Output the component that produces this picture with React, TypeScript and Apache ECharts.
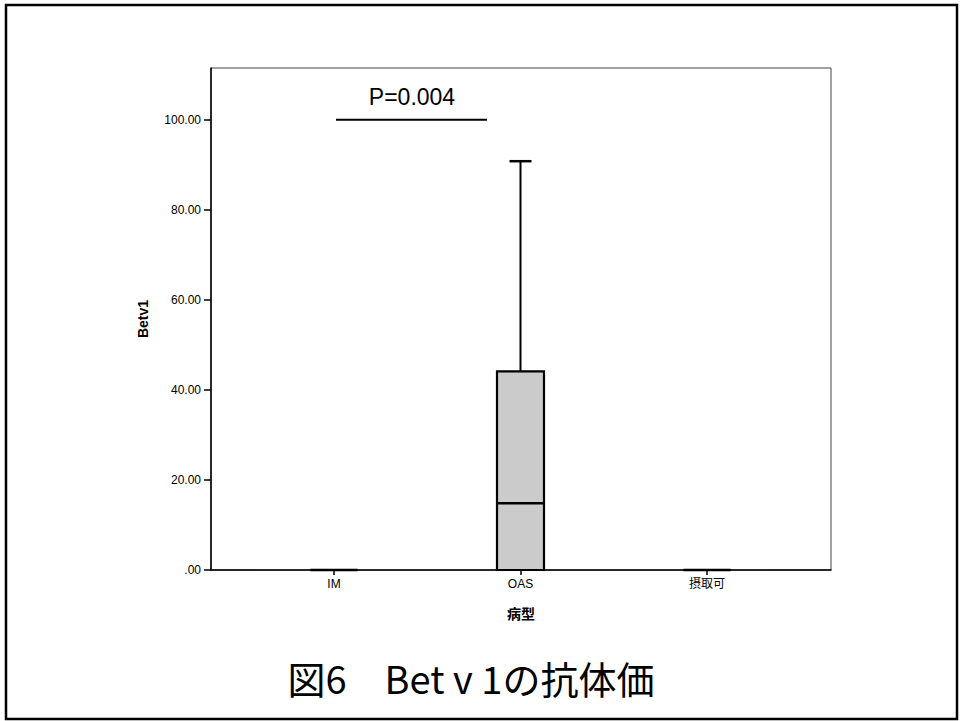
import React, { useEffect, useRef } from "react";
import * as echarts from "echarts";

// Bet v 1 antibody titre by disease type (box plot summary)
const categories = ["IM", "OAS", "摂取可"];
const minValues = [0, 0, 0];
const q1Values = [0, 0, 0];
const medianValues = [0, 14.8, 0];
const q3Values = [0, 44.1, 0];
const maxValues = [0, 90.8, 0];
const yTicks = [0, 20, 40, 60, 80, 100];

const pValueText = "P=0.004";
const pValueLevel = 100;
const titleText = "図6\u3000Bet v 1の抗体価";

const LATIN = "'Liberation Sans', Arial, 'Noto Sans CJK JP', sans-serif";
const CJK = "'Noto Sans CJK JP', 'Liberation Sans', sans-serif";

const formatTick = (v: number) => {
  const s = v.toFixed(2);
  return s.startsWith("0") ? s.slice(1) : s;
};

export default function App() {
  const ref = useRef<HTMLDivElement>(null);

  useEffect(() => {
    if (!ref.current) return;
    const chart = echarts.init(ref.current, undefined, { renderer: "svg" });

    const boxData = categories.map((_, i) => [
      i,
      minValues[i],
      q1Values[i],
      medianValues[i],
      q3Values[i],
      maxValues[i],
    ]);

    const yMax = 111.5;
    const boxWidth = 47;
    const capWidth = 22;

    const renderItem = (params: any, api: any) => {
      const idx = api.value(0);
      const vMin = api.value(1);
      const vQ1 = api.value(2);
      const vMed = api.value(3);
      const vQ3 = api.value(4);
      const vMax = api.value(5);
      const pMin = api.coord([idx, vMin]);
      const pQ1 = api.coord([idx, vQ1]);
      const pMed = api.coord([idx, vMed]);
      const pQ3 = api.coord([idx, vQ3]);
      const pMax = api.coord([idx, vMax]);
      const cx = pMed[0];
      const children: any[] = [];
      const lineStyle = { stroke: "#000", lineWidth: 2 };
      if (vMax > vQ3) {
        children.push({
          type: "line",
          shape: { x1: cx, y1: pQ3[1], x2: cx, y2: pMax[1] },
          style: lineStyle,
        });
        children.push({
          type: "line",
          shape: { x1: cx - capWidth / 2, y1: pMax[1], x2: cx + capWidth / 2, y2: pMax[1] },
          style: { stroke: "#000", lineWidth: 2.5 },
        });
      }
      if (vMin < vQ1) {
        children.push({
          type: "line",
          shape: { x1: cx, y1: pQ1[1], x2: cx, y2: pMin[1] },
          style: lineStyle,
        });
        children.push({
          type: "line",
          shape: { x1: cx - capWidth / 2, y1: pMin[1], x2: cx + capWidth / 2, y2: pMin[1] },
          style: { stroke: "#000", lineWidth: 2.5 },
        });
      }
      children.push({
        type: "rect",
        shape: {
          x: cx - boxWidth / 2,
          y: pQ3[1],
          width: boxWidth,
          height: pQ1[1] - pQ3[1],
        },
        style: { fill: "#cbcbcb", stroke: "#000", lineWidth: 2.2 },
      });
      children.push({
        type: "line",
        shape: { x1: cx - boxWidth / 2, y1: pMed[1], x2: cx + boxWidth / 2, y2: pMed[1] },
        style: { stroke: "#000", lineWidth: 2.5 },
      });
      return { type: "group", children };
    };

    chart.setOption({
      animation: false,
      backgroundColor: "#fff",
      grid: [
        {
          left: 211,
          top: 68,
          width: 620,
          height: 502,
          show: true,
          borderColor: "#444",
          borderWidth: 1,
          backgroundColor: "transparent",
        },
        { left: 240.75, top: 68, width: 559.5, height: 502 },
      ],
      xAxis: [
        {
          type: "value",
          gridIndex: 0,
          min: 0,
          max: 1,
          axisLine: { show: true, lineStyle: { color: "#000", width: 1.5 } },
          axisTick: { show: false },
          axisLabel: { show: false },
          splitLine: { show: false },
          name: "病型",
          nameLocation: "middle",
          nameGap: 36,
          nameTextStyle: {
            fontFamily: CJK,
            fontWeight: "bold",
            fontSize: 14,
            color: "#000",
          },
        },
        {
          type: "category",
          gridIndex: 1,
          data: categories,
          axisLine: { show: false },
          axisTick: {
            show: true,
            alignWithLabel: true,
            length: 5,
            lineStyle: { color: "#000", width: 1.5 },
          },
          axisLabel: {
            margin: 8,
            fontSize: 12,
            fontFamily: LATIN,
            color: "#000",
          },
          splitLine: { show: false },
        },
      ],
      yAxis: [
        {
          type: "value",
          gridIndex: 0,
          min: 0,
          max: yMax,
          interval: 20,
          axisLine: { show: true, lineStyle: { color: "#000", width: 1.5 } },
          axisTick: { show: true, length: 7, lineStyle: { color: "#000", width: 1.5 } },
          axisLabel: {
            margin: 10,
            fontSize: 12,
            fontFamily: LATIN,
            color: "#000",
            showMaxLabel: false,
            formatter: (v: number) => (yTicks.includes(v) ? formatTick(v) : ""),
          },
          splitLine: { show: false },
          name: "Betv1",
          nameLocation: "middle",
          nameGap: 61,
          nameRotate: 90,
          nameTextStyle: {
            fontFamily: LATIN,
            fontWeight: "bold",
            fontSize: 14,
            color: "#000",
          },
        },
        {
          type: "value",
          gridIndex: 1,
          min: 0,
          max: yMax,
          show: false,
          splitLine: { show: false },
        },
      ],
      series: [
        {
          type: "custom",
          name: "Betv1",
          xAxisIndex: 1,
          yAxisIndex: 1,
          renderItem,
          encode: { x: 0, y: [1, 2, 3, 4, 5] },
          data: boxData,
          z: 5,
        },
      ],
      graphic: [
        {
          type: "rect",
          shape: { x: 6, y: 5, width: 951, height: 714 },
          style: { fill: "none", stroke: "#000", lineWidth: 2.5 },
          silent: true,
        },
        {
          type: "line",
          shape: { x1: 336, y1: 570 - (pValueLevel / yMax) * 502, x2: 487, y2: 570 - (pValueLevel / yMax) * 502 },
          style: { stroke: "#000", lineWidth: 2 },
          silent: true,
        },
        {
          type: "text",
          x: 412,
          y: 97,
          style: {
            text: pValueText,
            fontSize: 23,
            fontFamily: LATIN,
            fill: "#000",
            align: "center",
            verticalAlign: "middle",
          },
          silent: true,
        },
        {
          type: "text",
          x: 471,
          y: 677,
          style: {
            text: titleText,
            fontSize: 38,
            fontFamily: CJK,
            fill: "#000",
            align: "center",
            verticalAlign: "middle",
          },
          silent: true,
        },
      ],
    });

    return () => chart.dispose();
  }, []);

  return (
    <div
      ref={ref}
      style={{ position: "fixed", left: 0, top: 0, width: 964, height: 721, background: "#fff" }}
    />
  );
}
